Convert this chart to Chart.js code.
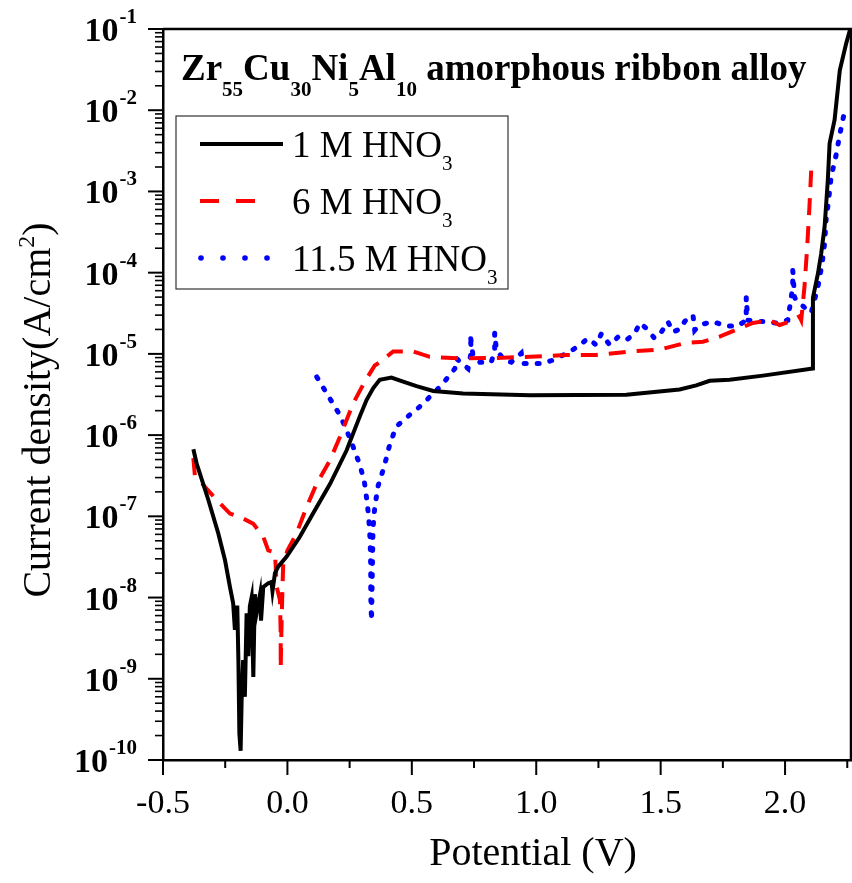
<!DOCTYPE html>
<html>
<head>
<meta charset="utf-8">
<script src="https://cdn.jsdelivr.net/npm/chart.js@4.4.1/dist/chart.umd.min.js"></script>
<style>
  html, body { margin: 0; padding: 0; background: #fff; }
  canvas { display: block; }
</style>
</head>
<body>
<canvas id="polarization" width="852" height="883"></canvas>
<script>
// 1 M HNO3 (black solid)
const potential1M = [-0.378, -0.365, -0.318, -0.278, -0.251, -0.231, -0.218, -0.211, -0.2015, -0.197, -0.193, -0.188, -0.184, -0.178, -0.171, -0.164, -0.157, -0.151, -0.144, -0.137, -0.131, -0.124, -0.110, -0.106, -0.097, -0.077, -0.064, -0.060, -0.050, -0.037, -0.003, 0.050, 0.104, 0.171, 0.238, 0.291, 0.318, 0.345, 0.371, 0.418, 0.465, 0.519, 0.586, 0.706, 0.974, 1.362, 1.576, 1.643, 1.697, 1.777, 1.911, 2.112, 2.112, 2.132, 2.145, 2.159, 2.172, 2.179, 2.199, 2.220, 2.246, 2.262];
const current1M = [6.7e-7, 4.5e-7, 1.6e-7, 6.2e-8, 2.9e-8, 1.35e-8, 8.5e-9, 4e-9, 8e-9, 1.7e-9, 2.1e-10, 1.3e-10, 5.5e-10, 1.7e-9, 6e-10, 6.4e-9, 1.9e-9, 7.8e-9, 1.0e-8, 1.05e-9, 1.1e-8, 6.4e-9, 1.1e-8, 5.2e-9, 1.35e-8, 1.5e-8, 1.55e-8, 1.2e-8, 2e-8, 2.4e-8, 3.2e-8, 5.6e-8, 1.1e-7, 2.5e-7, 6.5e-7, 1.7e-6, 2.7e-6, 3.8e-6, 4.8e-6, 5.1e-6, 4.55e-6, 4.0e-6, 3.5e-6, 3.26e-6, 3.1e-6, 3.14e-6, 3.65e-6, 4.1e-6, 4.67e-6, 4.8e-6, 5.4e-6, 6.6e-6, 4.9e-5, 9.7e-5, 1.7e-4, 3.7e-4, 1.4e-3, 3.9e-3, 7.6e-3, 3.1e-2, 6.7e-2, 0.1];

// 6 M HNO3 (red dashed)
const potential6M = [-0.378, -0.372, -0.331, -0.285, -0.231, -0.178, -0.137, -0.097, -0.077, -0.050, -0.043, -0.030, -0.027, -0.027, -0.024, -0.020, -0.017, 0.000, 0.037, 0.077, 0.117, 0.171, 0.211, 0.264, 0.310, 0.351, 0.371, 0.425, 0.506, 0.572, 0.693, 0.827, 0.974, 1.121, 1.241, 1.376, 1.496, 1.603, 1.670, 1.737, 1.817, 1.871, 1.938, 1.978, 2.018, 2.058, 2.065, 2.078, 2.089, 2.098, 2.105];
const current6M = [5.2e-7, 3.2e-7, 2.3e-7, 1.6e-7, 1.08e-7, 9.4e-8, 8.1e-8, 5.6e-8, 3.8e-8, 3.6e-8, 1.35e-8, 9.3e-9, 3.6e-9, 1.35e-9, 4e-9, 1.3e-8, 2.5e-8, 3.8e-8, 6.2e-8, 1.3e-7, 2.5e-7, 4.9e-7, 9.5e-7, 2.45e-6, 4.5e-6, 7.2e-6, 7.9e-6, 1.07e-5, 1.07e-5, 9.2e-6, 8.8e-6, 8.9e-6, 9.2e-6, 9.7e-6, 9.7e-6, 1.07e-5, 1.13e-5, 1.37e-5, 1.41e-5, 1.63e-5, 2.06e-5, 2.4e-5, 2.6e-5, 2.27e-5, 2.5e-5, 2.9e-5, 2.6e-5, 6.7e-5, 2.1e-4, 6.5e-4, 1.8e-3];

// 11.5 M HNO3 (blue dotted)
const potential115M = [0.118, 0.211, 0.238, 0.264, 0.291, 0.309, 0.321, 0.327, 0.331, 0.334, 0.335, 0.335, 0.338, 0.344, 0.351, 0.365, 0.389, 0.409, 0.436, 0.499, 0.532, 0.579, 0.619, 0.673, 0.679, 0.726, 0.739, 0.735, 0.745, 0.773, 0.819, 0.833, 0.833, 0.840, 0.873, 0.900, 0.940, 0.947, 0.987, 1.027, 1.067, 1.108, 1.148, 1.175, 1.208, 1.241, 1.262, 1.295, 1.329, 1.362, 1.396, 1.416, 1.443, 1.476, 1.503, 1.529, 1.550, 1.583, 1.596, 1.630, 1.637, 1.657, 1.710, 1.763, 1.810, 1.844, 1.844, 1.850, 1.884, 1.924, 1.964, 2.011, 2.031, 2.031, 2.038, 2.044, 2.058, 2.105, 2.132, 2.149, 2.159, 2.165, 2.175, 2.185, 2.205, 2.221, 2.239];
const current115M = [5.2e-6, 1.76e-6, 1.15e-6, 7.2e-7, 4.3e-7, 2.7e-7, 1.45e-7, 9.4e-8, 6.1e-8, 3.5e-8, 2e-8, 1.03e-8, 5.2e-9, 7.1e-8, 1.3e-7, 2.4e-7, 4.1e-7, 7.2e-7, 1.26e-6, 1.86e-6, 2.24e-6, 3.1e-6, 4.1e-6, 6.6e-6, 8.8e-6, 6.6e-6, 1.07e-5, 1.7e-5, 1.0e-5, 7.9e-6, 7.9e-6, 1.07e-5, 1.82e-5, 1.1e-5, 8.4e-6, 7.9e-6, 1.02e-5, 7.6e-6, 7.6e-6, 7.6e-6, 8.4e-6, 9.7e-6, 1.13e-5, 1.29e-5, 1.55e-5, 1.29e-5, 1.78e-5, 1.29e-5, 1.62e-5, 1.48e-5, 1.78e-5, 2.4e-5, 2.06e-5, 1.55e-5, 1.86e-5, 2.5e-5, 1.86e-5, 2.06e-5, 2.5e-5, 3.0e-5, 1.95e-5, 2.27e-5, 2.5e-5, 2.2e-5, 2.2e-5, 2.6e-5, 5e-5, 2.6e-5, 2.5e-5, 2.5e-5, 2.4e-5, 2.6e-5, 6.7e-5, 1.07e-4, 5e-5, 4.6e-5, 4.2e-5, 3.2e-5, 6.7e-5, 1.3e-4, 2.3e-4, 4.5e-4, 7.8e-4, 1.5e-3, 2.8e-3, 5.2e-3, 9.6e-3];

// axes
const xTicks = [-0.5, 0.0, 0.5, 1.0, 1.5, 2.0];
const xTickLabels = ['-0.5', '0.0', '0.5', '1.0', '1.5', '2.0'];
const yExponents = [-1, -2, -3, -4, -5, -6, -7, -8, -9, -10];

const seriesLabels = [['1 M HNO', '3'], ['6 M HNO', '3'], ['11.5 M HNO', '3']];
const titleParts = [['Zr', 0], ['55', 1], ['Cu', 0], ['30', 1], ['Ni', 0], ['5', 1], ['Al', 0], ['10', 1], [' amorphous ribbon alloy', 0]];

const SERIF = "'Liberation Serif', 'Times New Roman', serif";

const toPoints = (xs, ys) => xs.map((v, i) => ({ x: v, y: ys[i] }));

// ticks, labels, frame, inner title and legend
const decorPlugin = {
  id: 'decor',
  afterDraw(chart) {
    const { ctx, chartArea: a, scales: { x, y } } = chart;
    ctx.save();
    ctx.strokeStyle = '#000';
    ctx.fillStyle = '#000';

    // top + right frame
    ctx.lineWidth = 2.5;
    ctx.beginPath();
    ctx.moveTo(a.left, a.top);
    ctx.lineTo(a.right, a.top);
    ctx.lineTo(a.right, a.bottom);
    ctx.stroke();

    // x ticks (outward)
    ctx.lineWidth = 2;
    xTicks.forEach(v => {
      const px = x.getPixelForValue(v);
      ctx.beginPath(); ctx.moveTo(px, a.bottom); ctx.lineTo(px, a.bottom + 15); ctx.stroke();
      const pm = x.getPixelForValue(v + 0.25);
      if (pm <= a.right) {
        ctx.beginPath(); ctx.moveTo(pm, a.bottom); ctx.lineTo(pm, a.bottom + 8); ctx.stroke();
      }
    });

    // y ticks (outward)
    yExponents.forEach(e => {
      const py = y.getPixelForValue(Math.pow(10, e));
      ctx.lineWidth = 2;
      ctx.beginPath(); ctx.moveTo(a.left - 15, py); ctx.lineTo(a.left, py); ctx.stroke();
      if (e > -10) {
        ctx.lineWidth = 1.6;
        for (let k = 2; k <= 9; k++) {
          const pm = y.getPixelForValue(k * Math.pow(10, e - 1));
          ctx.beginPath(); ctx.moveTo(a.left - 8, pm); ctx.lineTo(a.left, pm); ctx.stroke();
        }
      }
    });

    // x tick labels
    ctx.font = '34px ' + SERIF;
    ctx.textAlign = 'center';
    ctx.textBaseline = 'alphabetic';
    xTicks.forEach((v, i) => {
      ctx.fillText(xTickLabels[i], x.getPixelForValue(v), 813);
    });

    // y tick labels 10^n
    ctx.textAlign = 'right';
    yExponents.forEach(e => {
      const py = y.getPixelForValue(Math.pow(10, e));
      const sup = String(e);
      ctx.font = 'bold 21px ' + SERIF;
      const sw = ctx.measureText(sup).width;
      ctx.fillText(sup, 137, py - 6);
      ctx.font = 'bold 34px ' + SERIF;
      ctx.fillText('10', 137 - sw - 1, py + 12);
    });

    // x axis title
    ctx.font = '40px ' + SERIF;
    ctx.textAlign = 'center';
    ctx.fillText('Potential (V)', 533, 865);

    // y axis title (rotated)
    ctx.save();
    ctx.translate(50, 410);
    ctx.rotate(-Math.PI / 2);
    ctx.textAlign = 'left';
    ctx.font = '40px ' + SERIF;
    const t1 = 'Current density(A/cm';
    const w1 = ctx.measureText(t1).width;
    const w3 = ctx.measureText(')').width;
    ctx.font = '24px ' + SERIF;
    const w2 = ctx.measureText('2').width;
    const start = -(w1 + w2 + w3) / 2;
    ctx.font = '40px ' + SERIF;
    ctx.fillText(t1, start, 0);
    ctx.fillText(')', start + w1 + w2, 0);
    ctx.font = '24px ' + SERIF;
    ctx.fillText('2', start + w1, -16);
    ctx.restore();

    // inner title with subscripts
    ctx.textAlign = 'left';
    let tx = 181;
    titleParts.forEach(([txt, sub]) => {
      ctx.font = sub ? 'bold 21px ' + SERIF : 'bold 37px ' + SERIF;
      ctx.fillText(txt, tx, sub ? 96 : 80);
      tx += ctx.measureText(txt).width;
    });

    // legend box
    ctx.fillStyle = '#fff';
    ctx.fillRect(176, 116, 332, 173);
    ctx.strokeStyle = '#333';
    ctx.lineWidth = 1.2;
    ctx.strokeRect(176, 116, 332, 173);
    ctx.fillStyle = '#000';

    const rows = [144, 201, 258];
    // solid
    ctx.strokeStyle = '#000';
    ctx.lineWidth = 4;
    ctx.beginPath(); ctx.moveTo(200, rows[0]); ctx.lineTo(283, rows[0]); ctx.stroke();
    // dashed
    ctx.strokeStyle = '#ff0000';
    ctx.setLineDash([19, 17]);
    ctx.beginPath(); ctx.moveTo(200, rows[1]); ctx.lineTo(255, rows[1]); ctx.stroke();
    ctx.setLineDash([]);
    // dotted
    ctx.fillStyle = '#0000ff';
    [201, 223, 245, 267].forEach(dx => {
      ctx.beginPath(); ctx.arc(dx, rows[2], 2.8, 0, Math.PI * 2); ctx.fill();
    });

    ctx.fillStyle = '#000';
    seriesLabels.forEach(([main, sub], i) => {
      const base = rows[i] + 13;
      ctx.font = '37px ' + SERIF;
      ctx.fillText(main, 292, base);
      const mw = ctx.measureText(main).width;
      ctx.font = '21px ' + SERIF;
      ctx.fillText(sub, 292 + mw, base + 13);
    });

    ctx.restore();
  }
};

new Chart(document.getElementById('polarization').getContext('2d'), {
  type: 'line',
  data: {
    datasets: [
      {
        label: '1 M HNO3',
        data: toPoints(potential1M, current1M),
        borderColor: '#000000',
        borderWidth: 4,
        pointRadius: 0,
        tension: 0
      },
      {
        label: '6 M HNO3',
        data: toPoints(potential6M, current6M),
        borderColor: '#ff0000',
        borderWidth: 4,
        borderDash: [17, 11],
        pointRadius: 0,
        tension: 0
      },
      {
        label: '11.5 M HNO3',
        data: toPoints(potential115M, current115M),
        borderColor: '#0000ff',
        borderWidth: 5,
        borderDash: [2, 11],
        borderCapStyle: 'round',
        pointRadius: 0,
        tension: 0
      }
    ]
  },
  options: {
    responsive: false,
    animation: false,
    devicePixelRatio: 1,
    layout: {
      padding: { left: 163, top: 29, right: 1, bottom: 123 }
    },
    plugins: {
      legend: { display: false },
      tooltip: { enabled: false }
    },
    scales: {
      x: {
        type: 'linear',
        min: -0.5,
        max: 2.265,
        grid: { display: false, drawTicks: false },
        ticks: { display: false },
        border: { display: true, color: '#000', width: 2.5 }
      },
      y: {
        type: 'logarithmic',
        min: 1e-10,
        max: 1e-1,
        grid: { display: false, drawTicks: false },
        ticks: { display: false },
        border: { display: true, color: '#000', width: 2.5 }
      }
    }
  },
  plugins: [decorPlugin]
});
</script>
</body>
</html>
